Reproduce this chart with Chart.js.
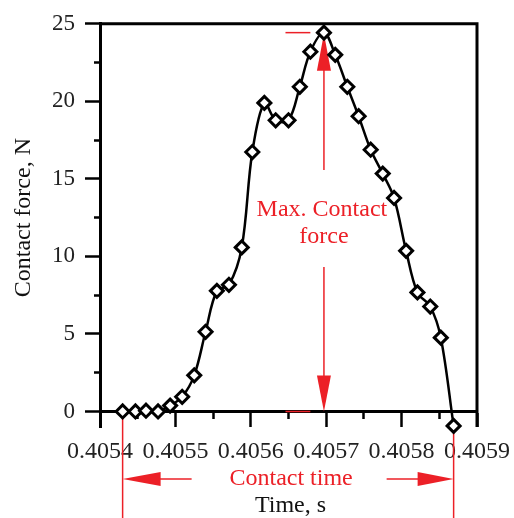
<!DOCTYPE html>
<html>
<head>
<meta charset="UTF-8">
<title>Contact force</title>
<script src="https://cdn.jsdelivr.net/npm/chart.js"></script>
<style>
	body { margin: 0; background: #fff; }
	#wrap { width: 514px; height: 518px; }
</style>
</head>
<body>
<div id="wrap"><canvas id="myChart" width="514" height="518"></canvas></div>
<script>
	// values
	const timeValues = [0.405430, 0.405447, 0.405461, 0.405477, 0.405493, 0.405509, 0.405525, 0.405540,
		0.405555, 0.405571, 0.405588, 0.405602, 0.405618, 0.405633, 0.405650, 0.405665, 0.405679,
		0.405697, 0.405712, 0.405728, 0.405743, 0.405759, 0.405775, 0.405790, 0.405806, 0.405821,
		0.405838, 0.405852, 0.405869];
	const forceValues = [0, 0, 0.05, 0, 0.38, 0.95, 2.33, 5.14, 7.78, 8.17, 10.58, 16.73, 19.9, 18.78,
		18.78, 20.94, 23.2, 24.43, 23.0, 20.94, 19.04, 16.88, 15.34, 13.77, 10.36, 7.68, 6.77, 4.76, -0.93];

	const xTicks = [0.4054, 0.4055, 0.4056, 0.4057, 0.4058, 0.4059];
	const xMinorTicks = [0.40545, 0.40555, 0.40565, 0.40575, 0.40585];
	const yTicks = [0, 5, 10, 15, 20, 25];
	const yMinorTicks = [2.5, 7.5, 12.5, 17.5, 22.5];

	const RED = '#ec2027';
	const SERIF = '"Liberation Serif", "Times New Roman", serif';

	function arrowHead(ctx, tipX, tipY, dx, dy, len, half) {
		// dx,dy: unit direction the arrow points to
		const bx = tipX - dx * len, by = tipY - dy * len;
		ctx.beginPath();
		ctx.moveTo(tipX, tipY);
		ctx.lineTo(bx - dy * half, by + dx * half);
		ctx.lineTo(bx + dy * half, by - dx * half);
		ctx.closePath();
		ctx.fill();
	}

	function line(ctx, x1, y1, x2, y2) {
		ctx.beginPath();
		ctx.moveTo(x1, y1);
		ctx.lineTo(x2, y2);
		ctx.stroke();
	}

	const annotations = {
		id: 'annotations',
		beforeDatasetsDraw(chart) {
			const {ctx} = chart;
			const xs = chart.scales.x, ys = chart.scales.y;
			const iPeak = forceValues.indexOf(Math.max(...forceValues));
			const px = xs.getPixelForValue(timeValues[iPeak]);
			const pTop = ys.getPixelForValue(forceValues[iPeak]);
			const pZero = ys.getPixelForValue(0);
			ctx.save();
			ctx.strokeStyle = RED;
			ctx.fillStyle = RED;
			ctx.lineWidth = 1.5;

			// short level marks
			const m1 = xs.getPixelForValue(0.405646), m2 = xs.getPixelForValue(0.405679);
			line(ctx, m1, pTop, m2, pTop);
			line(ctx, m1, pZero, m2, pZero);

			// max force double arrow, broken by the text
			line(ctx, px, pTop + 30, px, 170);
			arrowHead(ctx, px, pTop + 1, 0, -1, 37, 7);
			line(ctx, px, 267, px, pZero - 30);
			arrowHead(ctx, px, pZero, 0, 1, 36, 7);

			ctx.font = '24px ' + SERIF;
			ctx.textAlign = 'center';
			ctx.textBaseline = 'alphabetic';
			ctx.fillText('Max. Contact', px - 2, 216);
			ctx.fillText('force', px, 243);

			// contact time
			const c1 = xs.getPixelForValue(timeValues[0]);
			const c2 = xs.getPixelForValue(timeValues[timeValues.length - 1]);
			const ay = 479;
			line(ctx, c1, 418, c1, 518);
			line(ctx, c2, 420, c2, 518);
			line(ctx, c1 + 20, ay, c1 + 69, ay);
			arrowHead(ctx, c1, ay, -1, 0, 38, 7);
			line(ctx, c2 - 67, ay, c2 - 20, ay);
			arrowHead(ctx, c2, ay, 1, 0, 36, 7);
			ctx.textBaseline = 'middle';
			ctx.fillText('Contact time', (c1 + c2) / 2 + 3, ay);
			ctx.restore();
		},
		afterDraw(chart) {
			const {ctx, chartArea} = chart;
			const ys = chart.scales.y;
			ctx.save();
			// frame: top and right
			ctx.strokeStyle = '#000';
			ctx.lineWidth = 3;
			ctx.beginPath();
			ctx.moveTo(chartArea.left, chartArea.top);
			ctx.lineTo(chartArea.right, chartArea.top);
			ctx.lineTo(chartArea.right, chartArea.bottom);
			ctx.stroke();

			// axis titles
			ctx.fillStyle = '#111';
			ctx.font = '24px ' + SERIF;
			ctx.textAlign = 'center';
			ctx.textBaseline = 'middle';
			ctx.fillText('Time, s', (chartArea.left + chartArea.right) / 2 + 2, 506);
			ctx.translate(24, ys.getPixelForValue(12.5));
			ctx.rotate(-Math.PI / 2);
			ctx.fillText('Contact force, N', 0, 0);
			ctx.restore();
		}
	};

	const tickGrid = (len) => ({
		drawOnChartArea: false,
		drawTicks: true,
		tickLength: len,
		tickWidth: 2.5,
		tickColor: '#000'
	});

	// keep the axis box out of the layout so the plot area stays fixed
	const flatX = s => { s.height = 0; s.paddingLeft = 0; s.paddingRight = 0; };

	const ctx = document.getElementById('myChart').getContext('2d');
	const chart = new Chart(ctx, {
		type: 'line',
		data: {
			datasets: [{
				label: 'Contact force',
				data: timeValues.map((t, i) => ({x: t, y: forceValues[i]})),
				borderColor: '#000',
				borderWidth: 2.5,
				tension: 0.35,
				pointStyle: 'rectRot',
				pointRadius: 6.5,
				pointBorderWidth: 3,
				pointBorderColor: '#000',
				pointBackgroundColor: '#fff',
				clip: false,
				xAxisID: 'x',
				yAxisID: 'y'
			}]
		},
		options: {
			responsive: false,
			devicePixelRatio: 1,
			animation: false,
			events: [],
			layout: {
				padding: {left: 0, right: 37, top: 17, bottom: 91}
			},
			plugins: {
				legend: {display: false},
				tooltip: {enabled: false}
			},
			scales: {
				x: {
					type: 'linear',
					min: 0.4054,
					max: 0.4059,
					position: {y: 0},
					afterBuildTicks: s => { s.ticks = xTicks.map(v => ({value: v})); },
					afterFit: flatX,
					ticks: {
						autoSkip: false,
						maxRotation: 0,
						padding: 12,
						color: '#222',
						font: {family: SERIF, size: 24},
						callback: v => v.toFixed(4)
					},
					grid: tickGrid(14),
					border: {display: true, color: '#000', width: 3}
				},
				xMinor: {
					type: 'linear',
					min: 0.4054,
					max: 0.4059,
					position: {y: 0},
					afterBuildTicks: s => { s.ticks = xMinorTicks.map(v => ({value: v})); },
					afterFit: flatX,
					ticks: {display: false},
					grid: tickGrid(8),
					border: {display: false}
				},
				y: {
					type: 'linear',
					min: -1,
					max: 25,
					position: 'left',
					afterBuildTicks: s => { s.ticks = yTicks.map(v => ({value: v})); },
					afterFit: s => { s.width = 100; },
					ticks: {
						padding: 10,
						color: '#222',
						font: {family: SERIF, size: 23},
						callback: v => String(v)
					},
					grid: tickGrid(15),
					border: {display: true, color: '#000', width: 3}
				},
				yMinor: {
					type: 'linear',
					min: -1,
					max: 25,
					position: {x: 0.4054},
					afterBuildTicks: s => { s.ticks = yMinorTicks.map(v => ({value: v})); },
					afterFit: s => { s.width = 0; },
					ticks: {display: false},
					grid: tickGrid(6),
					border: {display: false}
				}
			}
		},
		plugins: [annotations]
	});
</script>
</body>
</html>
